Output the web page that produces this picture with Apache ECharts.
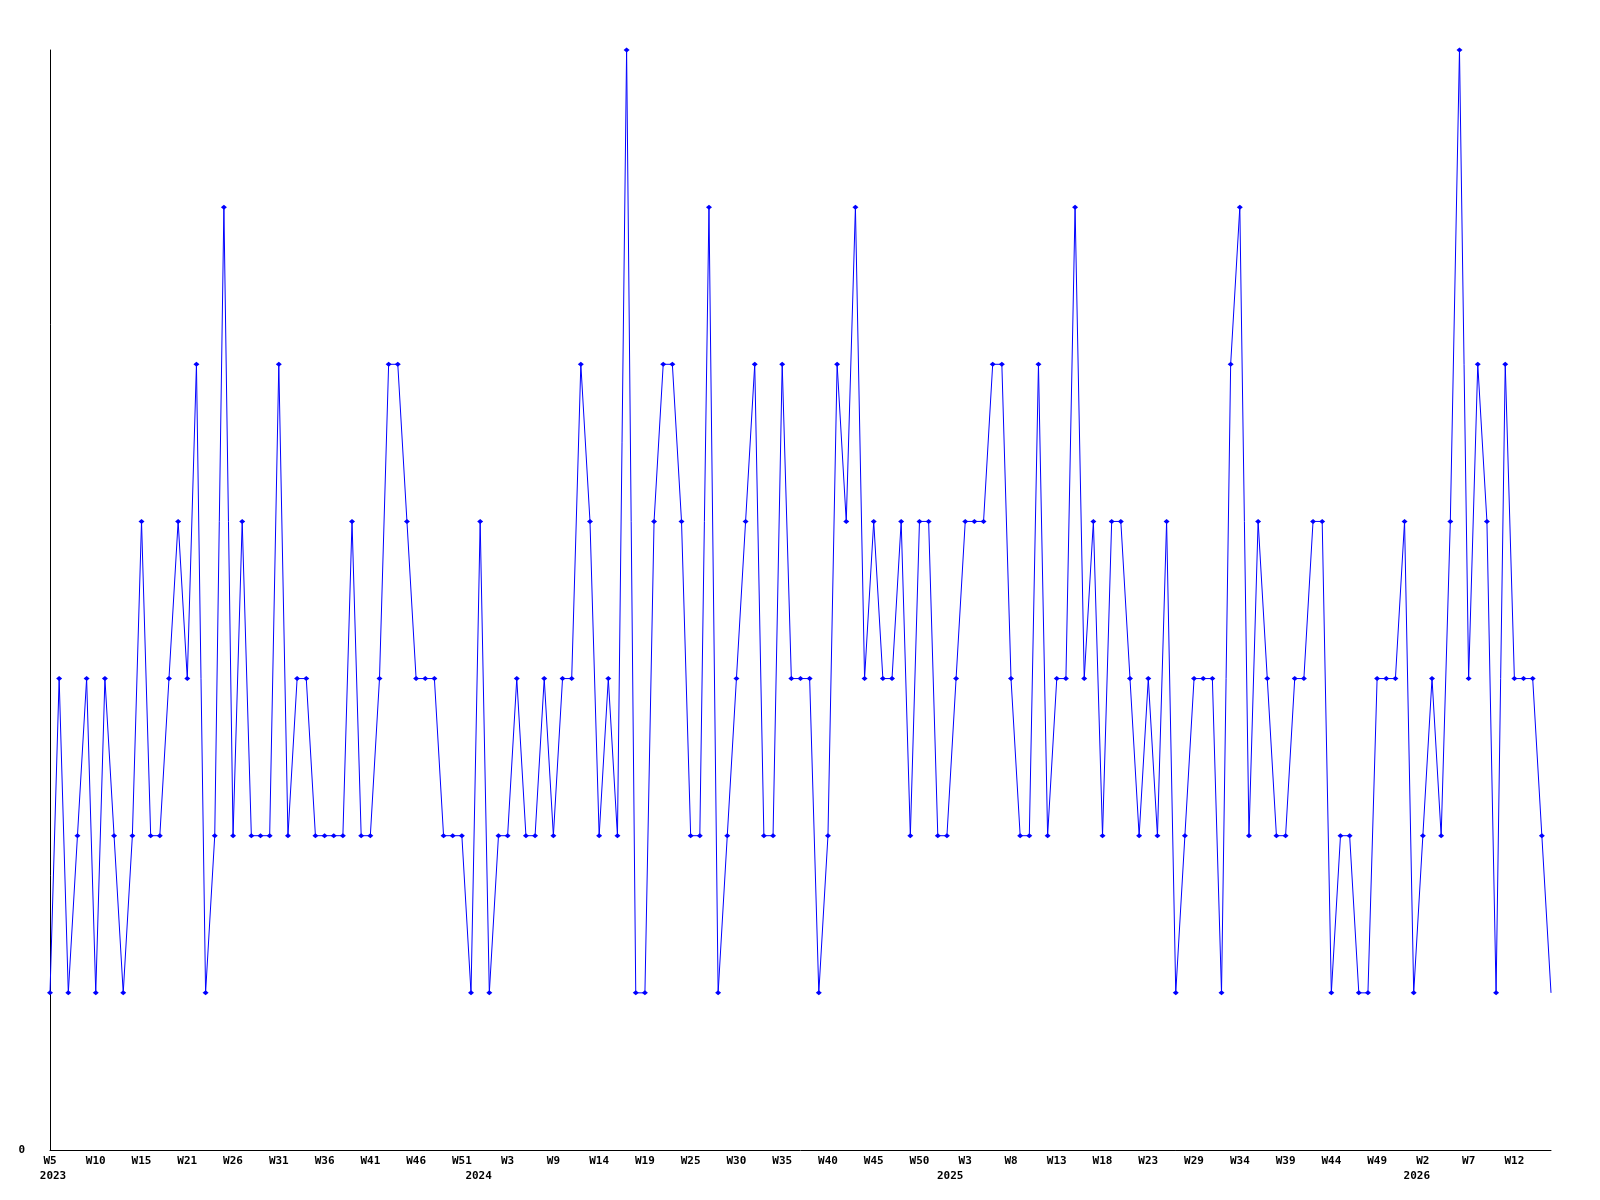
<!DOCTYPE html>
<html>
<head>
<meta charset="utf-8">
<script src="https://cdn.jsdelivr.net/npm/echarts@6/dist/echarts.min.js"></script>
<style>
  html, body { margin: 0; padding: 0; background: #ffffff; }
  #chart { width: 1600px; height: 1200px; }
</style>
</head>
<body>
<div id="chart"></div>
<script>
// Weekly values, 2023 W5 onward (165 points)
const values = [
  1,3,1,2,3,1,3,2,1,2,
  4,2,2,3,4,3,5,1,2,6,
  2,4,2,2,2,5,2,3,3,2,
  2,2,2,4,2,2,3,5,5,4,
  3,3,3,2,2,2,1,4,1,2,
  2,3,2,2,3,2,3,3,5,4,
  2,3,2,7,1,1,4,5,5,4,
  2,2,6,1,2,3,4,5,2,2,
  5,3,3,3,1,2,5,4,6,3,
  4,3,3,4,2,4,4,2,2,3,
  4,4,4,5,5,3,2,2,5,2,
  3,3,6,3,4,2,4,4,3,2,
  3,2,4,1,2,3,3,3,1,5,
  6,2,4,3,2,2,3,3,4,4,
  1,2,2,1,1,3,3,3,4,1,
  2,3,2,4,7,3,5,4,1,5,
  3,3,3,2,1
];

// Tick labels shown every 5th point
const tickLabels = [
  'W5','W10','W15','W21','W26','W31','W36','W41','W46','W51',
  'W3','W9','W14','W19','W25','W30','W35','W40','W45','W50',
  'W3','W8','W13','W18','W23','W29','W34','W39','W44','W49',
  'W2','W7','W12'
];

// Year captions (by point index)
const yearIdx = [0, 50, 100, 150];
const yearLabels = ['2023', '2024', '2025', '2026'];

const categories = values.map((v, i) => String(i));

// label style tweaks (not data)
const yearPad = { 0: [0, 0, 0, 6], 50: [0, 58, 0, 0], 100: [0, 30, 0, 0], 150: [0, 12, 0, 0] };

const FONT = 'DejaVu Sans Mono';
const rich = { w: { fontFamily: FONT, fontWeight: 'bold', fontSize: 11, color: '#000', lineHeight: 15 } };
yearIdx.forEach(i => {
  rich['y' + i] = { fontFamily: FONT, fontWeight: 'bold', fontSize: 11, color: '#000', lineHeight: 15, padding: yearPad[i] };
});

const seriesData = values.map((v, i) => i === values.length - 1 ? { value: v, symbol: 'none' } : v);

const chart = echarts.init(document.getElementById('chart'), null, { renderer: 'canvas' });
chart.setOption({
  animation: false,
  backgroundColor: '#ffffff',
  grid: { left: 50, right: 49, top: 50, bottom: 50, containLabel: false },
  xAxis: {
    type: 'category',
    data: categories,
    boundaryGap: false,
    axisLine: { show: true, lineStyle: { color: '#000', width: 1 } },
    axisTick: { show: false },
    splitLine: { show: false },
    axisLabel: {
      interval: 4,
      margin: 4,
      fontFamily: FONT,
      fontWeight: 'bold',
      fontSize: 11,
      color: '#000',
      rich: rich,
      formatter: function (value, index) {
        const k = Math.round(index / 5);
        let s = '{w|' + (tickLabels[k] || '') + '}';
        const yi = yearIdx.indexOf(index);
        if (yi >= 0) s += '\n{y' + index + '|' + yearLabels[yi] + '}';
        return s;
      }
    }
  },
  yAxis: {
    type: 'value',
    min: 0,
    max: 7,
    interval: 7,
    axisLine: { show: true, lineStyle: { color: '#000', width: 1 } },
    axisTick: { show: false },
    splitLine: { show: false },
    axisLabel: {
      margin: 25,
      fontFamily: FONT,
      fontWeight: 'bold',
      fontSize: 11,
      color: '#000',
      formatter: function (v) { return v === 0 ? '0' : ''; }
    }
  },
  series: [{
    type: 'line',
    data: seriesData,
    showSymbol: true,
    showAllSymbol: true,
    symbol: 'diamond',
    symbolSize: [6, 5],
    itemStyle: { color: '#0000ff' },
    lineStyle: { color: '#0000ff', width: 1 },
    emphasis: { disabled: true }
  }]
});
</script>
</body>
</html>
